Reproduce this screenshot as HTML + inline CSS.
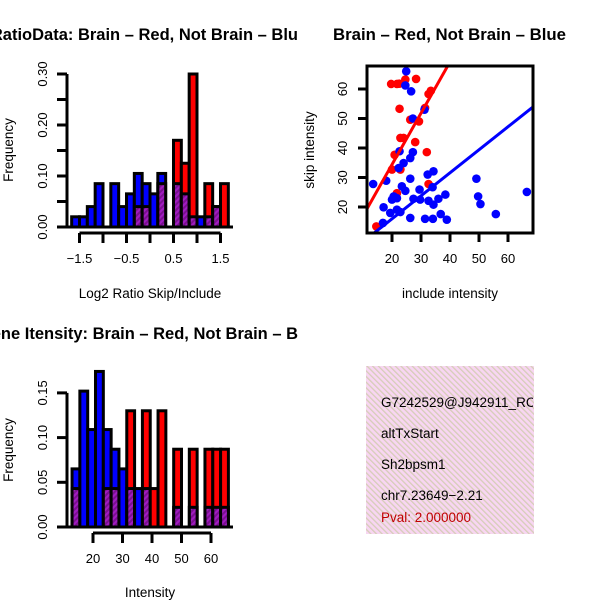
<!DOCTYPE html>
<html><head><meta charset="utf-8"><style>
html,body{margin:0;padding:0;background:#fff}
svg{display:block;font-family:"Liberation Sans",sans-serif}
</style></head><body>
<svg id="chart" width="600" height="600" xmlns="http://www.w3.org/2000/svg">
<defs>
<pattern id="purp" width="4" height="4" patternUnits="userSpaceOnUse" patternTransform="rotate(45)">
<rect width="4" height="4" fill="#a01cc0"/><rect width="2" height="4" fill="#7a1090"/></pattern>
<pattern id="pink" width="4" height="4" patternUnits="userSpaceOnUse" patternTransform="rotate(-45)">
<rect width="4" height="4" fill="#f8d6f2"/><rect width="1.3" height="4" fill="#d6cdb8"/></pattern>
<clipPath id="leftclip"><rect x="0" y="0" width="300" height="600"/></clipPath>
<clipPath id="infoclip"><rect x="366" y="366" width="167" height="168"/></clipPath>
<clipPath id="scatclip"><rect x="367" y="66" width="166" height="167"/></clipPath>
</defs>
<g id="h1"></g>
<g id="h2"></g>
<g id="sc"></g>
<g font-weight="bold" font-size="16.5">
<text clip-path="url(#leftclip)" x="298" y="40" text-anchor="end">RatioData: Brain – Red, Not Brain – Blu</text>
<text x="333" y="40" textLength="233" lengthAdjust="spacingAndGlyphs">Brain – Red, Not Brain – Blue</text>
<text clip-path="url(#leftclip)" x="298" y="339" text-anchor="end">Gene Itensity: Brain – Red, Not Brain – B</text>
</g>
<g font-size="13.5">
<text x="150" y="298" text-anchor="middle">Log2 Ratio Skip/Include</text>
<text transform="translate(13,150) rotate(-90)" text-anchor="middle">Frequency</text>
<text x="150" y="597" text-anchor="middle">Intensity</text>
<text transform="translate(13,450) rotate(-90)" text-anchor="middle">Frequency</text>
<text x="450" y="298" text-anchor="middle">include intensity</text>
<text transform="translate(314,150) rotate(-90)" text-anchor="middle">skip intensity</text>
</g>
<g>
<rect x="366" y="366" width="168" height="168" fill="url(#pink)"/>
<g font-size="13.5" clip-path="url(#infoclip)">
<text x="381" y="407">G7242529@J942911_RC</text>
<text x="381" y="438">altTxStart</text>
<text x="381" y="469">Sh2bpsm1</text>
<text x="381" y="500">chr7.23649−2.21</text>
<text x="381" y="522" fill="#c00000">Pval: 2.000000</text>
</g>
</g>
</svg>
<script>
// Ratio histogram data
const ratioBinStart = -5/3;
const ratioBinWidth = 1/6;
const ratioBlue = [0.02,0.02,0.04,0.085,0,0.085,0.04,0.065,0.105,0.085,0.065,0.105,0,0.085,0.065,0.02,0.02,0.02,0.04,0];
const ratioRed  = [0,0,0,0,0,0,0,0,0.04,0.04,0,0.085,0,0.17,0.125,0.30,0,0.085,0.04,0.085];
const ratioYTicks = [0,0.05,0.10,0.15,0.20,0.25,0.30];
const ratioYLabels = ["0.00","","0.10","","0.20","","0.30"];
const ratioXTicks = [-1.5,-1,-0.5,0,0.5,1,1.5];
const ratioXLabels = ["-1.5","","-0.5","","0.5","","1.5"];
// Intensity histogram data
const intBinStart = 12.9;
const intBinWidth = 2.65;
const intBlue = [0.065,0.152,0.109,0.174,0.109,0.087,0.065,0.043,0.043,0.043,0,0,0,0.022,0,0.022,0,0.022,0.022,0.022];
const intRed  = [0.043,0,0,0,0.043,0.043,0,0.13,0,0.13,0.043,0.13,0,0.087,0,0.087,0,0.087,0.087,0.087];
const intYTicks = [0,0.05,0.10,0.15];
const intYLabels = ["0.00","0.05","0.10","0.15"];
const intXTicks = [20,30,40,50,60];
const intXLabels = ["20","30","40","50","60"];
// Scatter data
const redX = [14.6,19.7,21.7,22.5,24.6,28.3,22.6,32.6,33.4,31.4,26.3,29.3,22.9,24,28,32,20.9,20,22.9,32.6,21.7];
const redY = [13.4,61.7,61.7,61.8,63.2,63.4,53.3,58.3,59.4,53.6,49.6,49,43.4,43.4,42,38.6,37.7,32.7,32.7,27.8,24.7];
const blueX = [24.9,24.6,26.6,31.2,27.2,22.6,27.2,26.3,24,22.3,34.3,32.3,13.5,18,26.3,23.4,24.6,29.5,34,20.6,20,21.7,27.4,29.7,32.6,34.3,36,38.4,17.1,21.7,19.4,22.9,16.9,26.3,31.4,34.1,36.8,38.9,49.1,49.7,50.5,55.8,66.5];
const blueY = [66,61.2,59.2,53,50,38.9,38.6,36.6,34.9,33.2,32.1,31,27.8,28.9,29.6,27,25.5,25.9,26.7,23.6,22.5,23,22.8,22.5,22.1,20.8,22.8,24.2,19.9,19.1,18,18.3,14.6,16.3,16,16,17.6,15.7,29.6,23.6,21,17.6,25.1];
const redFit = [-0.4, 1.74];
const blueFit = [0.4, 0.78];
const scXTicks = [20,30,40,50,60];
const scYTicks = [20,30,40,50,60];

const NS = "http://www.w3.org/2000/svg";
function mk(parent, tag, attrs){const e=document.createElementNS(NS,tag);for(const k in attrs)e.setAttribute(k,attrs[k]);parent.appendChild(e);return e;}

function hist(g, start, w, blue, red, sx, sy, yTicks, yLabels, xTicks, xLabels, axisX, axisY, x0, x1, y0){
  for(let i=0;i<blue.length;i++){
    const a=start+i*w, b=a+w, hb=blue[i], hr=red[i];
    const hi=Math.max(hb,hr), lo=Math.min(hb,hr);
    if(hi<=0) continue;
    const col = hb>=hr ? "#0000ff" : "#ff0000";
    const r=mk(g,"rect",{x:sx(a),y:sy(hi),width:sx(b)-sx(a),height:sy(0)-sy(hi),fill:col,stroke:"#000","stroke-width":3});
    
    
    if(lo>0){
      const p=mk(g,"rect",{x:sx(a),y:sy(lo),width:sx(b)-sx(a),height:sy(0)-sy(lo),fill:"url(#purp)",stroke:"#000","stroke-width":3});
      
      
    }
  }
  const ya=mk(g,"line",{x1:axisX,x2:axisX,y1:sy(yTicks[0]),y2:sy(yTicks[yTicks.length-1]),stroke:"#000","stroke-width":3});
  
  
  yTicks.forEach((t,i)=>{
    mk(g,"line",{x1:axisX-10,x2:axisX,y1:sy(t),y2:sy(t),stroke:"#000","stroke-width":3});
    if(yLabels[i]){const tx=mk(g,"text",{transform:`translate(${axisX-20},${sy(t)}) rotate(-90)`,"text-anchor":"middle","font-size":13});tx.textContent=yLabels[i];
      
      }
  });
  const xa=mk(g,"line",{x1:sx(xTicks[0]),x2:sx(xTicks[xTicks.length-1]),y1:axisY,y2:axisY,stroke:"#000","stroke-width":3});
  
  
  xTicks.forEach((t,i)=>{
    mk(g,"line",{x1:sx(t),x2:sx(t),y1:axisY,y2:axisY+10,stroke:"#000","stroke-width":3});
    if(xLabels[i]){const tx=mk(g,"text",{x:sx(t),y:axisY+30,"text-anchor":"middle","font-size":13});tx.textContent=xLabels[i].replace('-','\u2212');
      
      }
  });
  mk(g,"line",{x1:x0,x2:x1,y1:y0,y2:y0,stroke:"#000","stroke-width":3});
}
const s1x=v=>150+v*47, s1y=v=>227-v*510;
hist(document.getElementById('h1'),ratioBinStart,ratioBinWidth,ratioBlue,ratioRed,s1x,s1y,ratioYTicks,ratioYLabels,ratioXTicks,ratioXLabels,67,233,67,233,227);
const s2x=v=>93+(v-20)*2.95, s2y=v=>527-v*894;
hist(document.getElementById('h2'),intBinStart,intBinWidth,intBlue,intRed,s2x,s2y,intYTicks,intYLabels,intXTicks,intXLabels,67,533,67,233,527);

// scatter
const sc=document.getElementById('sc');
const s3x=v=>392+(v-20)*2.9, s3y=v=>207-(v-20)*2.95;
const cg=mk(sc,"g",{"clip-path":"url(#scatclip)"});
redX.forEach((x,i)=>{const c=mk(cg,"circle",{cx:s3x(x),cy:s3y(redY[i]),r:4.3,fill:"#ff0000"});
  
  });
blueX.forEach((x,i)=>{const c=mk(cg,"circle",{cx:s3x(x),cy:s3y(blueY[i]),r:4.3,fill:"#0000ff"});
  
  });
[[redFit,"#ff0000",'brain-fit-line'],[blueFit,"#0000ff",'not-brain-fit-line']].forEach(([f,col,nm])=>{
  const xa=5,xb=80;
  const l=mk(cg,"line",{x1:s3x(xa),y1:s3y(f[0]+f[1]*xa),x2:s3x(xb),y2:s3y(f[0]+f[1]*xb),stroke:col,"stroke-width":3});
  
  
});
const box=mk(sc,"rect",{x:367,y:66,width:166,height:167,fill:"none",stroke:"#000","stroke-width":3});


scXTicks.forEach(t=>{mk(sc,"line",{x1:s3x(t),x2:s3x(t),y1:233,y2:242,stroke:"#000","stroke-width":3});
  const tx=mk(sc,"text",{x:s3x(t),y:263,"text-anchor":"middle","font-size":13});tx.textContent=t;
  
  });
scYTicks.forEach(t=>{mk(sc,"line",{x1:358,x2:367,y1:s3y(t),y2:s3y(t),stroke:"#000","stroke-width":3});
  const tx=mk(sc,"text",{transform:`translate(347,${s3y(t)}) rotate(-90)`,"text-anchor":"middle","font-size":13});tx.textContent=t;
  
  });
</script>
</body></html>
